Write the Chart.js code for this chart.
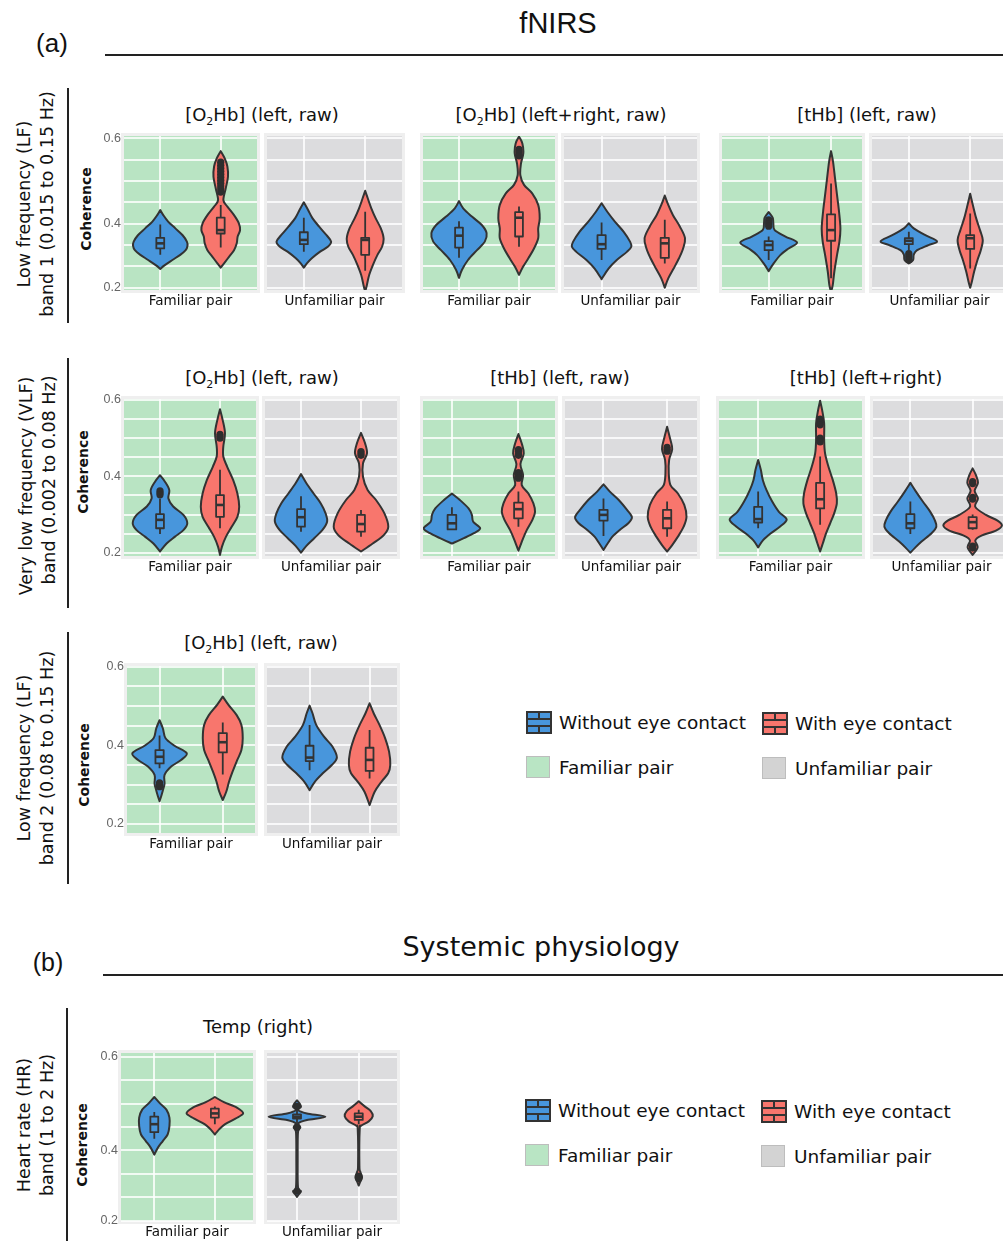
<!DOCTYPE html>
<html>
<head>
<meta charset="utf-8">
<script src="https://cdn.jsdelivr.net/npm/chart.js@4.4.1/dist/chart.umd.min.js"></script>
<style>
  html, body { margin: 0; padding: 0; background: #fff; }
  #page { position: relative; width: 1003px; height: 1241px; overflow: hidden;
          font-family: "DejaVu Sans", sans-serif; color: #111; }
  .t { position: absolute; white-space: nowrap; line-height: 1; transform: translate(-50%, -50%); }
  .rot { transform: translate(-50%, -50%) rotate(-90deg); }
  .ttl { font-size: 18px; }
  .ttl sub { font-size: 11px; vertical-align: -4px; line-height: 0; }
  .rowlab { font-size: 17.5px; }
  .coh { font-size: 14px; font-weight: bold; }
  .hl { position: absolute; height: 1.5px; background: #222; }
  .vl { position: absolute; width: 1.5px; background: #222; }
  .leg { position: absolute; font-size: 18.5px; line-height: 1; transform: translateY(-50%); white-space: nowrap; }
  .key { position: absolute; }
  canvas { position: absolute; }
</style>
</head>
<body>
<div id="page">
  <!-- (a) fNIRS -->
  <div class="t" style="left:52px;top:43px;font-family:'Liberation Sans';font-size:26px;">(a)</div>
  <div class="t" style="left:558px;top:23px;font-family:'Liberation Sans';font-size:29px;">fNIRS</div>
  <div class="hl" style="left:105px;top:54px;width:898px;"></div>

  <div class="vl" style="left:67px;top:88px;height:235px;"></div>
  <div class="t rot rowlab" style="left:25px;top:204px;">Low frequency (LF)</div>
  <div class="t rot rowlab" style="left:48px;top:204px;">band 1 (0.015 to 0.15 Hz)</div>
  <div class="t rot coh" style="left:86px;top:209px;">Coherence</div>

  <div class="vl" style="left:67px;top:358px;height:250px;"></div>
  <div class="t rot rowlab" style="left:27px;top:486px;">Very low frequency (VLF)</div>
  <div class="t rot rowlab" style="left:50px;top:480px;">band (0.002 to 0.08 Hz)</div>
  <div class="t rot coh" style="left:83px;top:472px;">Coherence</div>

  <div class="vl" style="left:67px;top:632px;height:252px;"></div>
  <div class="t rot rowlab" style="left:25px;top:758px;">Low frequency (LF)</div>
  <div class="t rot rowlab" style="left:48px;top:758px;">band 2 (0.08 to 0.15 Hz)</div>
  <div class="t rot coh" style="left:84px;top:765px;">Coherence</div>

  <div class="t ttl" style="left:262px;top:115px;">[O<sub>2</sub>Hb] (left, raw)</div>
  <div class="t ttl" style="left:561px;top:115px;">[O<sub>2</sub>Hb] (left+right, raw)</div>
  <div class="t ttl" style="left:867px;top:115px;">[tHb] (left, raw)</div>
  <div class="t ttl" style="left:262px;top:378px;">[O<sub>2</sub>Hb] (left, raw)</div>
  <div class="t ttl" style="left:560px;top:378px;">[tHb] (left, raw)</div>
  <div class="t ttl" style="left:866px;top:378px;">[tHb] (left+right)</div>
  <div class="t ttl" style="left:261px;top:643px;">[O<sub>2</sub>Hb] (left, raw)</div>

  <!-- (b) Systemic physiology -->
  <div class="t" style="left:48px;top:962px;font-family:'Liberation Sans';font-size:25px;">(b)</div>
  <div class="t" style="left:541px;top:946px;font-size:27px;">Systemic physiology</div>
  <div class="hl" style="left:103px;top:974px;width:900px;"></div>

  <div class="vl" style="left:66px;top:1008px;height:233px;"></div>
  <div class="t rot rowlab" style="left:25px;top:1125px;">Heart rate (HR)</div>
  <div class="t rot rowlab" style="left:48px;top:1125px;">band (1 to 2 Hz)</div>
  <div class="t rot coh" style="left:82px;top:1145px;">Coherence</div>
  <div class="t ttl" style="left:258px;top:1027px;">Temp (right)</div>
</div>

<script>
// ---- colours ----
const groupColors = ['#4896dc', '#f8766d'];          // without / with eye contact
const pairColors = { fam: '#b9e4c3', unf: '#dcdcde' };
const groupNames = ['Without eye contact', 'With eye contact'];
const pairNames = ['Familiar pair', 'Unfamiliar pair'];

// ---- y grid / tick labels ----
const gridShort = [0.25, 0.3, 0.35, 0.4, 0.45, 0.5, 0.55, 0.6];
const labelsShort = ['0.2', '', '', '0.4', '', '', '', '0.6'];
const gridLong = [0.2, 0.25, 0.3, 0.35, 0.4, 0.45, 0.5, 0.55, 0.6];
const labelsLong = ['0.2', '', '', '', '0.4', '', '', '', '0.6'];

// ---- violin data: shape = [coherence, half width], box = [lo, q1, median, q3, hi] ----
// Row 1, LF band 1, [O2Hb] (left, raw)
const p1Shape = [
  [[0.432,0],[0.420,0.05],[0.405,0.13],[0.389,0.25],[0.373,0.37],[0.358,0.44],[0.348,0.45],[0.338,0.42],[0.327,0.33],[0.315,0.2],[0.303,0.075],[0.294,0]],
  [[0.570,0],[0.553,0.066],[0.534,0.11],[0.510,0.12],[0.483,0.083],[0.455,0.044],[0.440,0.11],[0.420,0.22],[0.401,0.30],[0.385,0.32],[0.370,0.28],[0.354,0.265],[0.338,0.22],[0.323,0.14],[0.307,0.055],[0.297,0]]
];
const p1Box = [[0.327,0.342,0.354,0.367,0.398],[0.344,0.377,0.385,0.414,0.444]];
const p1Out = [[],[0.544,0.537,0.530,0.523,0.516,0.509,0.502,0.495,0.488,0.481,0.474]];
const p2Shape = [
  [[0.450,0],[0.432,0.07],[0.413,0.14],[0.393,0.25],[0.373,0.37],[0.358,0.445],[0.346,0.39],[0.334,0.26],[0.319,0.13],[0.307,0.05],[0.297,0]],
  [[0.477,0],[0.459,0.043],[0.436,0.10],[0.413,0.17],[0.389,0.255],[0.366,0.30],[0.346,0.275],[0.327,0.2],[0.303,0.125],[0.280,0.065],[0.256,0.027],[0.241,0]]
];
const p2Box = [[0.334,0.352,0.362,0.380,0.414],[0.290,0.327,0.362,0.367,0.428]];
const p2Out = [[],[]];
// Row 1, [O2Hb] (left+right, raw)
const p3Shape = [
  [[0.453,0],[0.436,0.07],[0.416,0.22],[0.397,0.38],[0.378,0.46],[0.358,0.43],[0.338,0.30],[0.315,0.15],[0.292,0.05],[0.273,0]],
  [[0.604,0],[0.588,0.056],[0.565,0.072],[0.541,0.033],[0.514,0.022],[0.491,0.084],[0.471,0.22],[0.444,0.32],[0.413,0.345],[0.389,0.32],[0.366,0.32],[0.342,0.25],[0.319,0.156],[0.299,0.067],[0.280,0]]
];
const p3Box = [[0.320,0.344,0.372,0.391,0.406],[0.346,0.370,0.414,0.427,0.440]];
const p3Out = [[],[0.574,0.569,0.564,0.559]];
const p4Shape = [
  [[0.448,0],[0.428,0.09],[0.405,0.21],[0.381,0.35],[0.358,0.45],[0.346,0.47],[0.334,0.40],[0.315,0.24],[0.295,0.11],[0.270,0]],
  [[0.466,0],[0.444,0.055],[0.420,0.13],[0.393,0.24],[0.366,0.32],[0.342,0.29],[0.319,0.225],[0.295,0.14],[0.272,0.055],[0.250,0]]
];
const p4Box = [[0.315,0.341,0.352,0.373,0.403],[0.307,0.320,0.354,0.367,0.409]];
const p4Out = [[],[]];
// Row 1, [tHb] (left, raw)
const p5Shape = [
  [[0.427,0],[0.414,0.064],[0.401,0.075],[0.385,0.096],[0.370,0.27],[0.356,0.455],[0.342,0.32],[0.327,0.19],[0.307,0.08],[0.289,0]],
  [[0.570,0],[0.545,0.032],[0.506,0.064],[0.467,0.096],[0.428,0.128],[0.389,0.15],[0.358,0.134],[0.327,0.096],[0.288,0.053],[0.256,0.027],[0.241,0]]
];
const p5Box = [[0.315,0.338,0.350,0.359,0.370],[0.272,0.360,0.385,0.422,0.494]];
const p5Out = [[0.409,0.404,0.399,0.394],[]];
const p6Shape = [
  [[0.401,0],[0.389,0.08],[0.373,0.27],[0.359,0.46],[0.350,0.32],[0.338,0.135],[0.327,0.08],[0.315,0.07],[0.307,0]],
  [[0.470,0],[0.444,0.043],[0.413,0.097],[0.385,0.16],[0.362,0.205],[0.338,0.173],[0.315,0.119],[0.288,0.065],[0.264,0.027],[0.250,0]]
];
const p6Box = [[0.338,0.352,0.360,0.366,0.381],[0.295,0.341,0.366,0.373,0.424]];
const p6Out = [[0.330,0.325,0.320,0.315],[]];

// Row 2, VLF, [O2Hb] (left, raw)
const p7Shape = [
  [[0.403,0],[0.386,0.083],[0.364,0.155],[0.342,0.14],[0.321,0.22],[0.299,0.39],[0.277,0.455],[0.259,0.39],[0.242,0.25],[0.224,0.11],[0.203,0]],
  [[0.576,0],[0.548,0.044],[0.513,0.083],[0.478,0.055],[0.452,0.055],[0.425,0.12],[0.390,0.22],[0.355,0.29],[0.320,0.32],[0.294,0.29],[0.268,0.195],[0.242,0.10],[0.216,0.033],[0.194,0]]
];
const p7Box = [[0.249,0.264,0.286,0.301,0.342],[0.264,0.294,0.325,0.351,0.417]];
const p7Out = [[0.362,0.357,0.352],[0.510,0.505,0.500]];
const p8Shape = [
  [[0.406,0],[0.382,0.09],[0.355,0.21],[0.329,0.33],[0.303,0.41],[0.281,0.435],[0.259,0.355],[0.238,0.22],[0.218,0.09],[0.200,0]],
  [[0.514,0],[0.487,0.067],[0.460,0.10],[0.434,0.033],[0.399,0.033],[0.364,0.11],[0.338,0.25],[0.303,0.39],[0.268,0.455],[0.246,0.38],[0.224,0.195],[0.203,0]]
];
const p8Box = [[0.255,0.268,0.293,0.314,0.348],[0.242,0.255,0.275,0.299,0.312]];
const p8Out = [[],[0.465,0.460,0.455]];
// Row 2, [tHb] (left, raw)
const p9Shape = [
  [[0.355,0],[0.338,0.12],[0.316,0.25],[0.299,0.30],[0.281,0.32],[0.264,0.425],[0.251,0.33],[0.238,0.18],[0.224,0]],
  [[0.511,0],[0.486,0.05],[0.460,0.08],[0.432,0.03],[0.403,0.07],[0.377,0.05],[0.355,0.15],[0.329,0.225],[0.307,0.25],[0.286,0.21],[0.259,0.125],[0.233,0.06],[0.205,0]]
];
const p9Box = [[0.261,0.261,0.277,0.299,0.319],[0.268,0.290,0.314,0.331,0.360]];
const p9Out = [[],[0.470,0.465,0.460,0.455,0.410,0.405,0.400,0.395]];
const p10Shape = [
  [[0.379,0],[0.360,0.10],[0.338,0.24],[0.312,0.37],[0.293,0.447],[0.277,0.39],[0.259,0.25],[0.242,0.14],[0.224,0.065],[0.207,0]],
  [[0.530,0],[0.495,0.053],[0.471,0.08],[0.443,0.032],[0.408,0.026],[0.377,0.053],[0.355,0.17],[0.325,0.27],[0.294,0.305],[0.268,0.26],[0.242,0.17],[0.220,0.08],[0.203,0]]
];
const p10Box = [[0.244,0.284,0.299,0.312,0.342],[0.242,0.264,0.290,0.312,0.334]];
const p10Out = [[],[0.476,0.471,0.466]];
// Row 2, [tHb] (left+right)
const p11Shape = [
  [[0.443,0],[0.417,0.043],[0.390,0.076],[0.364,0.135],[0.334,0.227],[0.307,0.335],[0.287,0.46],[0.268,0.35],[0.251,0.205],[0.233,0.08],[0.214,0]],
  [[0.598,0],[0.574,0.032],[0.539,0.065],[0.495,0.065],[0.460,0.08],[0.425,0.135],[0.390,0.205],[0.355,0.26],[0.329,0.27],[0.303,0.227],[0.277,0.162],[0.251,0.097],[0.224,0.043],[0.203,0]]
];
const p11Box = [[0.264,0.279,0.288,0.320,0.360],[0.273,0.316,0.340,0.383,0.452]];
const p11Out = [[],[0.550,0.545,0.540,0.535,0.500,0.495,0.490]];
const p12Shape = [
  [[0.383,0],[0.360,0.09],[0.334,0.2],[0.307,0.32],[0.286,0.39],[0.268,0.417],[0.251,0.34],[0.229,0.18],[0.212,0.07],[0.200,0]],
  [[0.421,0],[0.403,0.053],[0.383,0.085],[0.362,0.032],[0.342,0.085],[0.320,0.043],[0.299,0.214],[0.284,0.40],[0.271,0.47],[0.258,0.374],[0.244,0.134],[0.232,0.043],[0.214,0.08],[0.194,0]]
];
const p12Box = [[0.249,0.264,0.277,0.301,0.334],[0.260,0.264,0.280,0.293,0.300]];
const p12Out = [[],[0.386,0.381,0.345,0.340,0.217,0.212]];

// Row 3, LF band 2, [O2Hb] (left, raw)
const p13Shape = [
  [[0.464,0],[0.443,0.053],[0.418,0.095],[0.399,0.237],[0.380,0.43],[0.363,0.34],[0.346,0.184],[0.325,0.079],[0.303,0.079],[0.286,0.053],[0.274,0.032],[0.258,0]],
  [[0.524,0],[0.503,0.09],[0.477,0.22],[0.452,0.295],[0.418,0.316],[0.388,0.295],[0.363,0.23],[0.333,0.155],[0.308,0.1],[0.282,0.055],[0.261,0]]
];
const p13Box = [[0.342,0.354,0.371,0.388,0.425],[0.326,0.382,0.408,0.431,0.458]];
const p13Out = [[0.305,0.300,0.295],[]];
const p14Shape = [
  [[0.501,0],[0.481,0.05],[0.452,0.11],[0.422,0.24],[0.397,0.38],[0.369,0.455],[0.350,0.37],[0.329,0.22],[0.308,0.09],[0.286,0]],
  [[0.507,0],[0.481,0.07],[0.452,0.165],[0.418,0.26],[0.384,0.325],[0.350,0.345],[0.329,0.31],[0.308,0.2],[0.282,0.085],[0.248,0]]
];
const p14Box = [[0.337,0.360,0.369,0.399,0.452],[0.316,0.335,0.363,0.394,0.439]];
const p14Out = [[],[]];

// (b) HR band, Temp (right)
const p15Shape = [
  [[0.514,0],[0.501,0.09],[0.487,0.2],[0.470,0.25],[0.452,0.25],[0.434,0.22],[0.420,0.14],[0.406,0.06],[0.391,0]],
  [[0.514,0],[0.503,0.15],[0.491,0.37],[0.479,0.467],[0.468,0.34],[0.456,0.17],[0.445,0.07],[0.434,0]]
];
const p15Box = [[0.425,0.439,0.456,0.472,0.482],[0.456,0.470,0.479,0.489,0.494]];
const p15Out = [[],[]];
const p16Shape = [
  [[0.507,0],[0.500,0.043],[0.493,0.065],[0.486,0.016],[0.479,0.16],[0.472,0.46],[0.465,0.16],[0.458,0.022],[0.449,0.054],[0.439,0.016],[0.382,0.011],[0.322,0.016],[0.313,0.065],[0.306,0.027],[0.301,0]],
  [[0.505,0],[0.494,0.097],[0.484,0.195],[0.473,0.227],[0.462,0.162],[0.453,0.043],[0.445,0.016],[0.368,0.011],[0.354,0.027],[0.343,0.054],[0.334,0.027],[0.325,0]]
];
const p16Box = [[0.456,0.468,0.472,0.477,0.487],[0.456,0.465,0.472,0.479,0.487]];
const p16Out = [[0.494,0.449,0.313],[0.345,0.340]];

// ---- layout (pixels) ----
const rows = [
  { top: 136, bottom: 290, yMin: 0.2447, yMax: 0.6054, grid: gridShort, labels: labelsShort },
  { top: 399, bottom: 556, yMin: 0.1913, yMax: 0.6026, grid: gridLong, labels: labelsLong },
  { top: 666, bottom: 833, yMin: 0.1772, yMax: 0.6018, grid: gridLong, labels: labelsLong },
  { top: 1053, bottom: 1221, yMin: 0.2494, yMax: 0.6079, grid: gridShort, labels: labelsShort }
];
const panels = [
  { row: 0, x0: 124, x1: 257, xr: [0.4, 2.6], pair: 0, first: true, shape: p1Shape, box: p1Box, out: p1Out },
  { row: 0, x0: 267, x1: 402, xr: [0.4, 2.6], pair: 1, shape: p2Shape, box: p2Box, out: p2Out },
  { row: 0, x0: 423, x1: 555, xr: [0.4, 2.6], pair: 0, shape: p3Shape, box: p3Box, out: p3Out },
  { row: 0, x0: 564, x1: 697, xr: [0.405, 2.51], pair: 1, shape: p4Shape, box: p4Box, out: p4Out },
  { row: 0, x0: 722, x1: 862, xr: [0.252, 2.496], pair: 0, shape: p5Shape, box: p5Box, out: p5Out },
  { row: 0, x0: 872, x1: 1007, xr: [0.4, 2.6], pair: 1, shape: p6Shape, box: p6Box, out: p6Out },
  { row: 1, x0: 124, x1: 256, xr: [0.4, 2.6], pair: 0, first: true, shape: p7Shape, box: p7Box, out: p7Out },
  { row: 1, x0: 265, x1: 397, xr: [0.4, 2.6], pair: 1, shape: p8Shape, box: p8Box, out: p8Out },
  { row: 1, x0: 423, x1: 555, xr: [0.565, 2.55], pair: 0, shape: p9Shape, box: p9Box, out: p9Out },
  { row: 1, x0: 565, x1: 697, xr: [0.395, 2.47], pair: 1, shape: p10Shape, box: p10Box, out: p10Out },
  { row: 1, x0: 719, x1: 862, xr: [0.368, 2.676], pair: 0, shape: p11Shape, box: p11Box, out: p11Out },
  { row: 1, x0: 873, x1: 1010, xr: [0.4, 2.6], pair: 1, shape: p12Shape, box: p12Box, out: p12Out },
  { row: 2, x0: 127, x1: 255, xr: [0.485, 2.51], pair: 0, first: true, shape: p13Shape, box: p13Box, out: p13Out },
  { row: 2, x0: 267, x1: 397, xr: [0.29, 2.457], pair: 1, shape: p14Shape, box: p14Box, out: p14Out },
  { row: 3, x0: 121, x1: 253, xr: [0.45, 2.63], pair: 0, first: true, shape: p15Shape, box: p15Box, out: p15Out },
  { row: 3, x0: 267, x1: 397, xr: [0.514, 2.62], pair: 1, shape: p16Shape, box: p16Box, out: p16Out }
];

const page = document.getElementById('page');
const PAD = 3, PAD_TOP = 10, X_AXIS_H = 20, Y_AXIS_W = 24;
const BOX_HW = 0.065;
const INK = '#333333';

// smooth curve through points (Catmull-Rom as cubic beziers), pen already at pts[0]
function spline(ctx, pts) {
  for (let i = 0; i < pts.length - 1; i++) {
    const p0 = pts[i - 1] || pts[i], p1 = pts[i], p2 = pts[i + 1], p3 = pts[i + 2] || pts[i + 1];
    ctx.bezierCurveTo(p1.x + (p2.x - p0.x) / 6, p1.y + (p2.y - p0.y) / 6,
                      p2.x - (p3.x - p1.x) / 6, p2.y - (p3.y - p1.y) / 6, p2.x, p2.y);
  }
}

function panelBackground(color) {
  return {
    id: 'panelBg',
    beforeDraw(chart) {
      const { ctx, chartArea: a } = chart;
      ctx.save();
      ctx.fillStyle = '#efefef';
      ctx.fillRect(a.left - 3, a.top - 3, a.width + 6, a.height + 6);
      ctx.fillStyle = color;
      ctx.fillRect(a.left, a.top, a.width, a.height);
      ctx.restore();
    }
  };
}

function violins(p) {
  return {
    id: 'violins',
    beforeDatasetsDraw(chart) {
      const { ctx, chartArea: a, scales: { x, y } } = chart;
      ctx.save();
      ctx.beginPath();
      ctx.rect(a.left, a.top, a.width, a.height);
      ctx.clip();
      for (let k = 0; k < 2; k++) {
        const cx = k + 1;
        const shape = p.shape[k];
        const right = shape.map(([v, w]) => ({ x: x.getPixelForValue(cx + w), y: y.getPixelForValue(v) }));
        const left = shape.slice().reverse().map(([v, w]) => ({ x: x.getPixelForValue(cx - w), y: y.getPixelForValue(v) }));
        ctx.beginPath();
        ctx.moveTo(right[0].x, right[0].y);
        spline(ctx, right);
        spline(ctx, left);
        ctx.closePath();
        ctx.fillStyle = groupColors[k];
        ctx.fill();
        ctx.lineWidth = 2;
        ctx.strokeStyle = INK;
        ctx.lineJoin = 'round';
        ctx.stroke();

        // box + whiskers
        const [lo, q1, md, q3, hi] = p.box[k];
        const xc = x.getPixelForValue(cx);
        const bx0 = x.getPixelForValue(cx - BOX_HW), bx1 = x.getPixelForValue(cx + BOX_HW);
        ctx.lineWidth = 1.8;
        ctx.beginPath();
        ctx.moveTo(xc, y.getPixelForValue(hi)); ctx.lineTo(xc, y.getPixelForValue(q3));
        ctx.moveTo(xc, y.getPixelForValue(q1)); ctx.lineTo(xc, y.getPixelForValue(lo));
        ctx.stroke();
        ctx.strokeRect(bx0, y.getPixelForValue(q3), bx1 - bx0, y.getPixelForValue(q1) - y.getPixelForValue(q3));
        ctx.lineWidth = 2.6;
        ctx.beginPath();
        ctx.moveTo(bx0, y.getPixelForValue(md)); ctx.lineTo(bx1, y.getPixelForValue(md));
        ctx.stroke();
      }
      ctx.restore();
    }
  };
}

function fixSize(w, h) {
  return scale => {
    if (w !== null) scale.width = w;
    if (h !== null) scale.height = h;
    scale.paddingLeft = 0; scale.paddingRight = 0;
    scale.paddingTop = 0; scale.paddingBottom = 0;
  };
}

panels.forEach(p => {
  const row = rows[p.row];
  const yW = p.first ? Y_AXIS_W : 0;
  const cw = PAD + yW + (p.x1 - p.x0) + PAD;
  const ch = PAD_TOP + (row.bottom - row.top) + X_AXIS_H;
  const cv = document.createElement('canvas');
  cv.width = cw; cv.height = ch;
  cv.style.left = (p.x0 - PAD - yW) + 'px';
  cv.style.top = (row.top - PAD_TOP) + 'px';
  cv.style.width = cw + 'px'; cv.style.height = ch + 'px';
  page.appendChild(cv);

  new Chart(cv, {
    type: 'scatter',
    data: {
      datasets: [0, 1].map(k => ({
        label: groupNames[k],
        data: p.out[k].map(v => ({ x: k + 1, y: v })),
        pointRadius: 3.6,
        pointBackgroundColor: '#2e2e2e',
        pointBorderWidth: 0
      }))
    },
    options: {
      responsive: false,
      animation: false,
      events: [],
      layout: { autoPadding: false, padding: { left: PAD, right: PAD, top: PAD_TOP, bottom: 0 } },
      plugins: { legend: { display: false }, tooltip: { enabled: false } },
      scales: {
        x: {
          type: 'linear', min: p.xr[0], max: p.xr[1],
          afterBuildTicks: s => { s.ticks = [{ value: 1 }, { value: 2 }]; },
          afterFit: fixSize(null, X_AXIS_H),
          ticks: { display: false },
          grid: { color: 'rgba(255,255,255,0.8)', lineWidth: 2, drawTicks: false },
          border: { display: false },
          title: { display: true, text: pairNames[p.pair], color: '#111', padding: 0,
                   font: { family: 'DejaVu Sans', size: 13.5, lineHeight: 1.2 } }
        },
        y: {
          type: 'linear', min: row.yMin, max: row.yMax,
          afterBuildTicks: s => { s.ticks = row.grid.map(v => ({ value: v })); },
          afterFit: fixSize(yW, null),
          ticks: { display: !!p.first, autoSkip: false, padding: 3, color: '#666',
                   font: { family: 'Liberation Sans', size: 12.5 },
                   callback: (v, i) => row.labels[i] },
          grid: { color: 'rgba(255,255,255,0.8)', lineWidth: 2, drawTicks: false },
          border: { display: false }
        }
      }
    },
    plugins: [panelBackground(pairColors[p.pair === 0 ? 'fam' : 'unf']), violins(p)]
  });
});

// ---- legends ----
function boxKey(color) {
  return '<svg width="26" height="23" viewBox="0 0 26 23">' +
    '<rect x="1" y="1" width="24" height="21" fill="' + color + '" stroke="#333" stroke-width="2"/>' +
    '<line x1="1" y1="8" x2="25" y2="8" stroke="#333" stroke-width="2"/>' +
    '<line x1="1" y1="15" x2="25" y2="15" stroke="#333" stroke-width="2"/>' +
    '<line x1="13" y1="1" x2="13" y2="8" stroke="#333" stroke-width="2"/>' +
    '<line x1="13" y1="15" x2="13" y2="22" stroke="#333" stroke-width="2"/></svg>';
}
function fillKey(color) {
  return '<svg width="24" height="22" viewBox="0 0 24 22">' +
    '<rect x="0.5" y="0.5" width="23" height="21" fill="' + color + '" stroke="#bdbdbd" stroke-width="1"/></svg>';
}
function addLegend(x0, y0) {
  const items = [
    { k: boxKey(groupColors[0]), t: groupNames[0], x: x0, y: y0 },
    { k: boxKey(groupColors[1]), t: groupNames[1], x: x0 + 236, y: y0 + 1 },
    { k: fillKey('#b9e5c4'), t: pairNames[0], x: x0, y: y0 + 45 },
    { k: fillKey('#d3d3d3'), t: pairNames[1], x: x0 + 236, y: y0 + 46 }
  ];
  items.forEach(it => {
    const key = document.createElement('div');
    key.className = 'key';
    key.style.left = it.x + 'px';
    key.style.top = (it.y - 12) + 'px';
    key.innerHTML = it.k;
    page.appendChild(key);
    const lab = document.createElement('div');
    lab.className = 'leg';
    lab.style.left = (it.x + 33) + 'px';
    lab.style.top = it.y + 'px';
    lab.textContent = it.t;
    page.appendChild(lab);
  });
}
addLegend(526, 723);
addLegend(525, 1111);
</script>
</body>
</html>
